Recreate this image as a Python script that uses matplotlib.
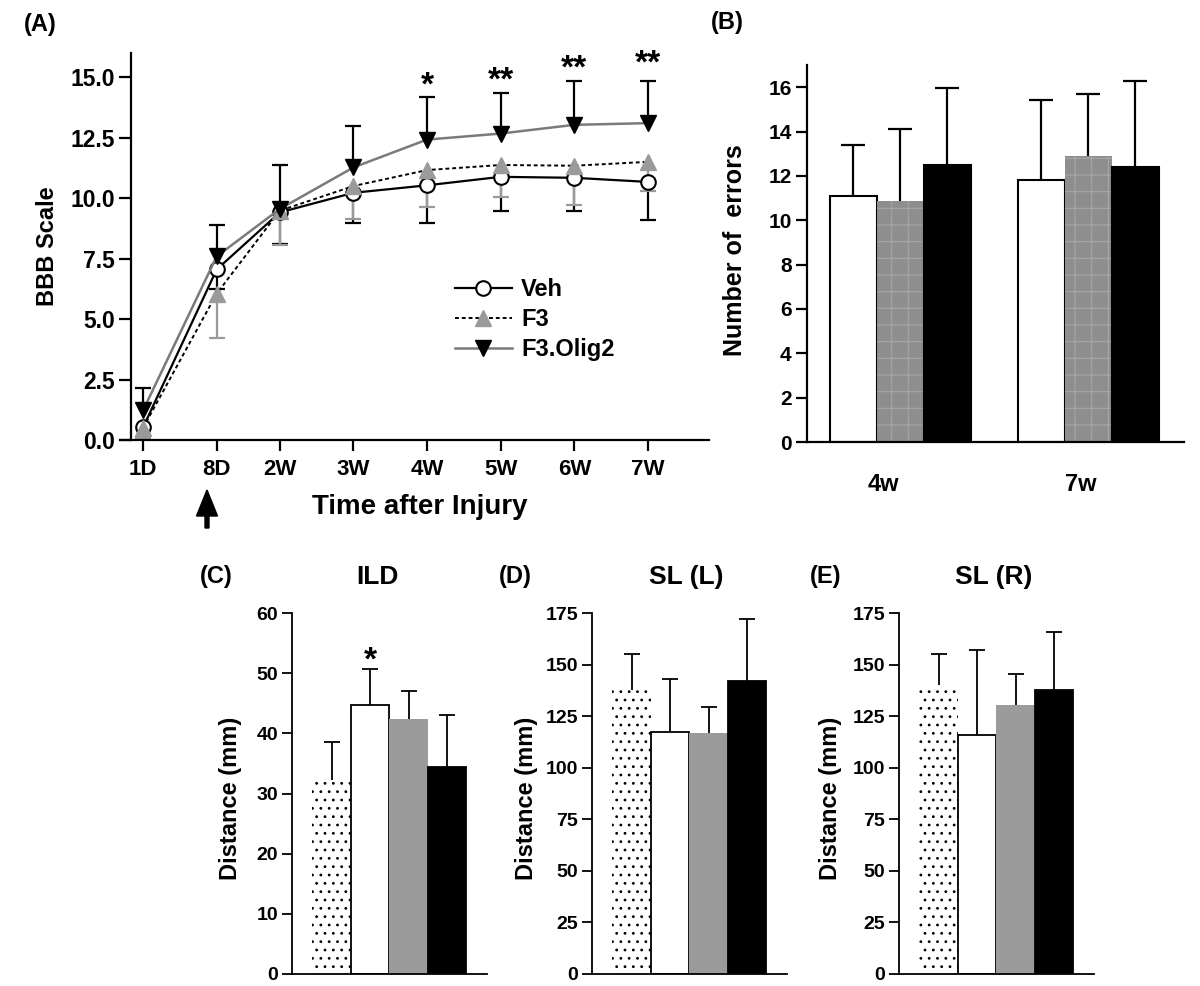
import matplotlib
matplotlib.use('Agg')
import matplotlib.pyplot as plt
import numpy as np

plt.rcParams['font.family'] = ['Liberation Sans', 'DejaVu Sans']
plt.rcParams['font.weight'] = 'bold'
plt.rcParams['hatch.linewidth'] = 0.8

# ---------------- data ----------------
# Panel A (BBB scale over time)
days = [1, 8, 14, 21, 28, 35, 42, 49]
time_labels = ['1D', '8D', '2W', '3W', '4W', '5W', '6W', '7W']
veh = [0.52, 7.05, 9.41, 10.22, 10.53, 10.88, 10.84, 10.67]
veh_err = [0.4, 0.8, 1.29, 1.23, 1.57, 1.40, 1.36, 1.57]
f3 = [0.50, 6.05, 9.48, 10.50, 11.16, 11.37, 11.34, 11.50]
f3_err = [0.4, 1.82, 1.43, 1.37, 1.54, 1.33, 1.61, 1.22]
olig2 = [1.22, 7.59, 9.55, 11.27, 12.42, 12.67, 13.03, 13.10]
olig2_err = [0.91, 1.29, 1.82, 1.71, 1.78, 1.66, 1.80, 1.76]
star_days = [28, 35, 42, 49]
star_text = ['*', '**', '**', '**']
star_y = [14.62, 14.82, 15.32, 15.53]
series_names = ['Veh', 'F3', 'F3.Olig2']

# Panel B (number of errors)
groups = ['4w', '7w']
b_veh = [11.10, 11.80]
b_veh_err = [2.30, 3.60]
b_f3 = [10.87, 12.89]
b_f3_err = [3.26, 2.80]
b_olig = [12.51, 12.42]
b_olig_err = [3.45, 3.88]

# Panels C-E (gait distances)
c_vals = [32.3, 44.65, 42.3, 34.4]
c_err = [6.3, 6.1, 4.7, 8.6]
d_vals = [137.9, 117.1, 116.8, 142.1]
d_err = [17.4, 25.8, 12.6, 30.0]
e_vals = [140.0, 115.8, 130.6, 137.6]
e_err = [15.0, 41.5, 14.6, 28.0]
c_star_x = 1
c_star_y = 50.6

W, H = 1200, 986
fig = plt.figure(figsize=(W / 100, H / 100), dpi=100)


def rect(left, top, right, bottom):
    return [left / W, 1 - bottom / H, (right - left) / W, (bottom - top) / H]


def ftext(x, y, s, **kw):
    fig.text(x / W, 1 - y / H, s, ha='center', va='center', fontweight='bold', **kw)


# ---------------- Panel A ----------------
axA = fig.add_axes(rect(120, 53, 709, 440))
axA.set_xlim(-1.19, 54.8)
axA.set_ylim(0, 16)
axA.spines['left'].set_position(('data', -0.14))
for s in ['top', 'right']:
    axA.spines[s].set_visible(False)
for s in ['left', 'bottom']:
    axA.spines[s].set_linewidth(1.6)

d = np.array(days, float)
v = np.array(veh); ve = np.array(veh_err)
f = np.array(f3); fe = np.array(f3_err)
o = np.array(olig2); oe = np.array(olig2_err)

# error bars (one-sided)
axA.vlines(d, v - ve, v, color='black', lw=1.6, zorder=2)
axA.plot(d, v - ve, ls='none', marker='_', ms=11.5, mew=1.6, color='black', zorder=2)
axA.vlines(d, f - fe, f, color='#9a9a9a', lw=1.6, zorder=2.1)
axA.plot(d, f - fe, ls='none', marker='_', ms=11.5, mew=1.6, color='#9a9a9a', zorder=2.1)
axA.vlines(d, o, o + oe, color='black', lw=1.6, zorder=2.2)
axA.plot(d, o + oe, ls='none', marker='_', ms=11.5, mew=1.6, color='black', zorder=2.2)

lv, = axA.plot(d, v, color='black', lw=1.6, marker='o', ms=10.5, mfc='white',
               mec='black', mew=1.5, zorder=3, label=series_names[0])
lf, = axA.plot(d, f, color='black', lw=1.4, ls=(0, (2, 1.5)), marker='^', ms=11,
               mfc='#9a9a9a', mec='#9a9a9a', zorder=3.1, label=series_names[1])
lo, = axA.plot(d, o, color='#7a7a7a', lw=1.8, marker='v', ms=11,
               mfc='black', mec='black', zorder=3.2, label=series_names[2])

for xd, t, yv in zip(star_days, star_text, star_y):
    axA.text(xd, yv, t, ha='center', va='center', fontsize=24, fontweight='bold')

axA.set_xticks(days)
axA.set_xticklabels(time_labels)
yt = np.arange(0, 15.01, 2.5)
axA.set_yticks(yt)
axA.set_yticklabels(['%.1f' % t for t in yt])
axA.tick_params(axis='y', length=8.5, width=1.6, labelsize=16.5, pad=3)
axA.tick_params(axis='x', length=8, width=1.6, labelsize=16, pad=6)

leg = axA.legend(handles=[lv, lf, lo], loc='upper left',
                 bbox_to_anchor=(455 / W, 1 - 278 / H), bbox_transform=fig.transFigure,
                 frameon=False, handlelength=2.4, handletextpad=0.4,
                 labelspacing=0.3, borderpad=0, borderaxespad=0,
                 prop={'weight': 'bold', 'size': 17})

ftext(47, 246, 'BBB Scale', fontsize=17, rotation=90)
ftext(420, 507, 'Time after Injury', fontsize=20)
ftext(40, 24, '(A)', fontsize=17)
fig.add_artist(matplotlib.patches.FancyArrow(207 / W, 1 - 528 / H, 0, (528 - 490) / H,
                                             width=4 / W, head_width=21 / W,
                                             head_length=26 / H, length_includes_head=True,
                                             color='black', transform=fig.transFigure))

# ---------------- Panel B ----------------
axB = fig.add_axes(rect(807, 65, 1184, 442))
axB.set_xlim(-0.495, 1.51)
axB.set_ylim(0, 17)
for s in ['top', 'right']:
    axB.spines[s].set_visible(False)
for s in ['left', 'bottom']:
    axB.spines[s].set_linewidth(1.6)
gx = np.arange(len(groups), dtype=float)
bw = 0.25
bset = [(b_veh, b_veh_err, dict(facecolor='white', edgecolor='black', lw=1.5)),
        (b_f3, b_f3_err, dict(facecolor='#8e8e8e', edgecolor='#a6a6a6', lw=0, hatch='+')),
        (b_olig, b_olig_err, dict(facecolor='black', edgecolor='black', lw=1.5))]
for i, (vals, errs, sty) in enumerate(bset):
    xs = gx + (i - 1) * bw
    vals = np.array(vals); errs = np.array(errs)
    axB.bar(xs, vals, width=bw, zorder=2, **sty)
    axB.vlines(xs, vals, vals + errs, color='black', lw=1.6, zorder=1.5)
    axB.plot(xs, vals + errs, ls='none', marker='_', ms=17, mew=1.6, color='black', zorder=1.5)
axB.set_yticks(np.arange(0, 16.1, 2))
axB.set_xticks(gx - np.array([0.09, 0.04]))
axB.set_xticklabels(groups)
axB.tick_params(axis='y', length=8, width=1.6, labelsize=15, pad=3)
axB.tick_params(axis='x', length=0, labelsize=17, pad=22)
ftext(735, 250, 'Number of  errors', fontsize=18, rotation=90)
ftext(727, 23, '(B)', fontsize=17)

# ---------------- Panels C-E ----------------
bar_styles = [dict(facecolor='white', edgecolor='black', lw=0, hatch='..'),
              dict(facecolor='white', edgecolor='black', lw=1.3),
              dict(facecolor='#9b9b9b', edgecolor='#9b9b9b', lw=0),
              dict(facecolor='black', edgecolor='black', lw=1.3)]


def gait_panel(left, vals, errs, ymax, ystep, title, tx, letter, lx, ylab_x):
    ax = fig.add_axes(rect(left, 613, left + 195, 974))
    ax.set_xlim(-1.03, 4.04)
    ax.set_ylim(0, ymax)
    for s in ['top', 'right']:
        ax.spines[s].set_visible(False)
    for s in ['left', 'bottom']:
        ax.spines[s].set_linewidth(1.3)
    xs = np.arange(len(vals), dtype=float)
    vals = np.array(vals); errs = np.array(errs)
    for xi, vi, st in zip(xs, vals, bar_styles):
        ax.bar(xi, vi, width=1.0, zorder=2, **st)
    ax.vlines(xs, vals, vals + errs, color='black', lw=1.3, zorder=1.5)
    ax.plot(xs, vals + errs, ls='none', marker='_', ms=11.5, mew=1.3, color='black', zorder=1.5)
    ax.set_yticks(np.arange(0, ymax + 0.1, ystep))
    ax.set_xticks([])
    ax.tick_params(axis='y', length=7, width=1.3, labelsize=14, pad=3)
    ftext(tx, 577, title, fontsize=19)
    ftext(lx, 577, letter, fontsize=17)
    ftext(ylab_x, 798, 'Distance (mm)', fontsize=17, rotation=90)
    return ax


axC = gait_panel(292, c_vals, c_err, 60, 10, 'ILD', 377, '(C)', 216, 230)
axC.text(c_star_x, c_star_y, '*', ha='center', va='baseline', fontsize=24, fontweight='bold')
axD = gait_panel(592, d_vals, d_err, 175, 25, 'SL (L)', 686, '(D)', 515, 527)
axE = gait_panel(899, e_vals, e_err, 175, 25, 'SL (R)', 994, '(E)', 826, 830)

fig.savefig('out.png', dpi=100)
